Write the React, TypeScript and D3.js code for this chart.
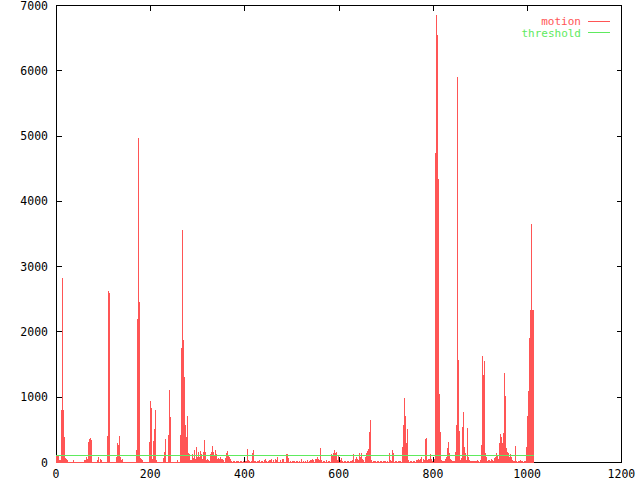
import * as d3 from 'd3';

// motion impulses: [frame, value]; frames not listed are 0
const motion: [number, number][] = [
  [0, 90], [2, 95], [4, 90], [6, 30], [8, 30], [11, 796], [13, 2823], [15, 800], [17, 388], [19, 60], [21, 50], [23, 30],
  [37, 30], [59, 30], [61, 35], [63, 70], [65, 40], [68, 311], [71, 347], [73, 372], [75, 337],
  [86, 30], [90, 82], [93, 50], [96, 35],
  [108, 403], [110, 2619], [112, 2593],
  [127, 70], [130, 296], [132, 260], [134, 398], [136, 70], [138, 30], [141, 50],
  [170, 184], [172, 2190], [174, 4967], [176, 2455], [178, 60], [180, 50], [182, 30],
  [197, 300], [199, 934], [201, 827], [204, 40], [206, 322], [208, 505], [210, 796], [212, 30],
  [228, 66], [230, 158], [232, 347], [238, 418], [240, 1103], [242, 694], [256, 30],
  [263, 413], [265, 1746], [267, 3553], [269, 1868], [271, 1307], [273, 567], [275, 388], [277, 705], [280, 136], [282, 120],
  [284, 30], [286, 30], [289, 122], [291, 66], [293, 184], [295, 51], [297, 235], [299, 70], [301, 158], [303, 80],
  [306, 173], [308, 122], [310, 51], [312, 158], [314, 337], [316, 158], [318, 30], [320, 40], [322, 30], [325, 20],
  [327, 122], [329, 158], [331, 245], [333, 158], [335, 102], [337, 184], [340, 122], [342, 51], [344, 61], [346, 40],
  [349, 70], [351, 51], [353, 40], [355, 30], [358, 61], [360, 133], [362, 173], [364, 107], [366, 92], [368, 70], [370, 40],
  [372, 15], [375, 15], [378, 15], [381, 15], [384, 15], [387, 15], [390, 15], [393, 15], [396, 15],
  [401, 15], [403, 15], [405, 194], [407, 30], [410, 15], [413, 15], [416, 133], [418, 184], [420, 20], [423, 15],
  [426, 15], [429, 15], [431, 30], [434, 15], [437, 15], [441, 30], [443, 40], [446, 15], [449, 15], [452, 30],
  [454, 30], [456, 51], [460, 30], [464, 45], [466, 30], [468, 70], [470, 30], [475, 30], [480, 51], [482, 40],
  [488, 122], [490, 122], [493, 61],
  [497, 20], [500, 15], [503, 20], [506, 15], [509, 20], [512, 15], [515, 20], [519, 30], [521, 40], [525, 15],
  [529, 15], [533, 30], [536, 15], [539, 35], [541, 35], [544, 51], [546, 30], [549, 51], [551, 51], [553, 80],
  [555, 51], [557, 30], [559, 30], [561, 209], [563, 30], [566, 15], [569, 15], [572, 15], [574, 30], [577, 15], [580, 15],
  [584, 122], [586, 102], [588, 143], [590, 184], [592, 143], [594, 158], [596, 30], [598, 102], [603, 30], [605, 61],
  [608, 15], [611, 15], [614, 15], [617, 15], [620, 15], [623, 15], [626, 15], [629, 30], [631, 122], [634, 51],
  [636, 70], [638, 51], [640, 30], [642, 143], [644, 70], [646, 80], [648, 133], [650, 51], [652, 30], [655, 70],
  [657, 133], [659, 158], [661, 173], [663, 194], [665, 464], [667, 643], [669, 30],
  [672, 15], [675, 15], [678, 15], [681, 15], [684, 15], [687, 15], [690, 15], [693, 15], [696, 15], [699, 15],
  [702, 15], [706, 143], [708, 30], [711, 15], [714, 184], [716, 133], [719, 15], [722, 15], [725, 15], [728, 15], [731, 15],
  [734, 235], [736, 566], [738, 984], [741, 704], [743, 286], [745, 500], [748, 30], [751, 15], [754, 15], [757, 15],
  [760, 15], [763, 30], [767, 30], [769, 51], [771, 30],
  [773, 41], [775, 82], [779, 50], [781, 30], [783, 347], [785, 362], [787, 30], [789, 41], [792, 50], [794, 122],
  [796, 41], [798, 20], [802, 50],
  [804, 4727], [806, 6846], [809, 6540], [811, 4329], [813, 1036], [815, 454], [817, 30], [819, 15], [821, 20], [823, 15],
  [825, 41], [828, 71], [830, 219], [832, 311], [834, 133], [836, 41], [838, 30], [840, 20], [842, 20], [844, 20],
  [847, 158], [849, 567], [851, 5901], [853, 1562], [855, 480], [857, 30], [859, 56], [862, 541], [864, 766], [866, 235],
  [868, 143], [870, 30], [872, 516], [874, 71], [876, 30],
  [879, 20], [881, 10], [883, 10], [885, 10], [887, 10], [889, 20], [891, 20], [893, 30], [896, 10], [900, 30],
  [902, 260], [904, 1623], [906, 1332], [908, 1547], [910, 133], [912, 71], [915, 20], [917, 30], [919, 30], [921, 20],
  [923, 41], [925, 30], [927, 20], [929, 56], [932, 71], [934, 133], [936, 92], [938, 41],
  [940, 286], [942, 429], [944, 388], [946, 286], [948, 439], [951, 1368], [953, 1011], [955, 209], [957, 158],
  [959, 133], [961, 82], [963, 122], [966, 71], [968, 30], [970, 10], [972, 20], [974, 245], [976, 20], [980, 20],
  [982, 10], [985, 30], [987, 10], [989, 20], [993, 10], [995, 10],
  [997, 235], [999, 704], [1001, 1092], [1004, 1904], [1006, 2328], [1008, 3645], [1010, 2328], [1012, 2328], [1013, 2328],
];

const lastFrame = 1013;
const threshold = 100;

const xTicks = [0, 200, 400, 600, 800, 1000, 1200];
const yTicks = [0, 1000, 2000, 3000, 4000, 5000, 6000, 7000];
const seriesNames = ['motion', 'threshold'];
const seriesColors = ['#ff5555', '#5eea5e'];

const W = 640;
const H = 480;
const left = 56;
const right = 621.44;
const top = 5;
const bottom = 462;
const tickLen = 5;
const font = '"DejaVu Sans Mono", "Liberation Mono", monospace';

const App = () => {
  const x = d3.scaleLinear().domain([0, 1200]).range([left, right]);
  const y = d3.scaleLinear().domain([0, 7000]).range([bottom, top]);
  const px = (v: number) => Math.round(x(v)) + 0.5;
  const py = (v: number) => Math.round(y(v)) + 0.5;
  const x0 = px(0);
  const x1 = px(1200);

  return (
    <svg width={W} height={H} style={{ position: 'absolute', left: 0, top: 0, background: '#fff' }}>
      <g stroke="#000" strokeWidth={1} shapeRendering="crispEdges" fill="none">
        <rect x={x0} y={py(7000)} width={x1 - x0} height={py(0) - py(7000)} />
        {yTicks.map(t => (
          <g key={'y' + t}>
            <line x1={x0} x2={x0 + tickLen} y1={py(t)} y2={py(t)} />
            <line x1={x1} x2={x1 - tickLen} y1={py(t)} y2={py(t)} />
          </g>
        ))}
        {xTicks.map(t => (
          <g key={'x' + t}>
            <line x1={px(t)} x2={px(t)} y1={bottom + 1} y2={bottom - tickLen} />
            <line x1={px(t)} x2={px(t)} y1={top} y2={top + tickLen + 1} />
          </g>
        ))}
      </g>

      <g fontFamily={font} fontSize={11.5} fill="#000">
        {yTicks.map(t => (
          <text key={'yl' + t} x={48} y={y(t) + 0.5} textAnchor="end" dominantBaseline="central">{t}</text>
        ))}
        {xTicks.map(t => (
          <text key={'xl' + t} x={x(t)} y={474} textAnchor="middle" dominantBaseline="central">{t}</text>
        ))}
      </g>

      {/* motion impulses */}
      <g stroke={seriesColors[0]} strokeWidth={1} shapeRendering="crispEdges">
        <line x1={x0 - 0.5} x2={px(lastFrame) + 0.5} y1={bottom + 0.5} y2={bottom + 0.5} />
        {motion.map(([f, v], i) => (
          <line key={i} x1={px(f)} x2={px(f)} y1={bottom + 1} y2={Math.round(y(v))} />
        ))}
      </g>

      {/* threshold */}
      <line x1={x0 - 0.5} x2={px(lastFrame) + 0.5} y1={py(threshold)} y2={py(threshold)}
        stroke={seriesColors[1]} strokeWidth={1} shapeRendering="crispEdges" />

      {/* legend */}
      <g fontFamily={font} fontSize={11}>
        {seriesNames.map((name, i) => (
          <g key={name}>
            <text x={581} y={21.5 + i * 11.5} textAnchor="end" dominantBaseline="central" fill={seriesColors[i]}>{name}</text>
            <line x1={588} x2={610} y1={21.5 + i * 11} y2={21.5 + i * 11} stroke={seriesColors[i]} shapeRendering="crispEdges" />
          </g>
        ))}
      </g>
    </svg>
  );
};

export default App;
